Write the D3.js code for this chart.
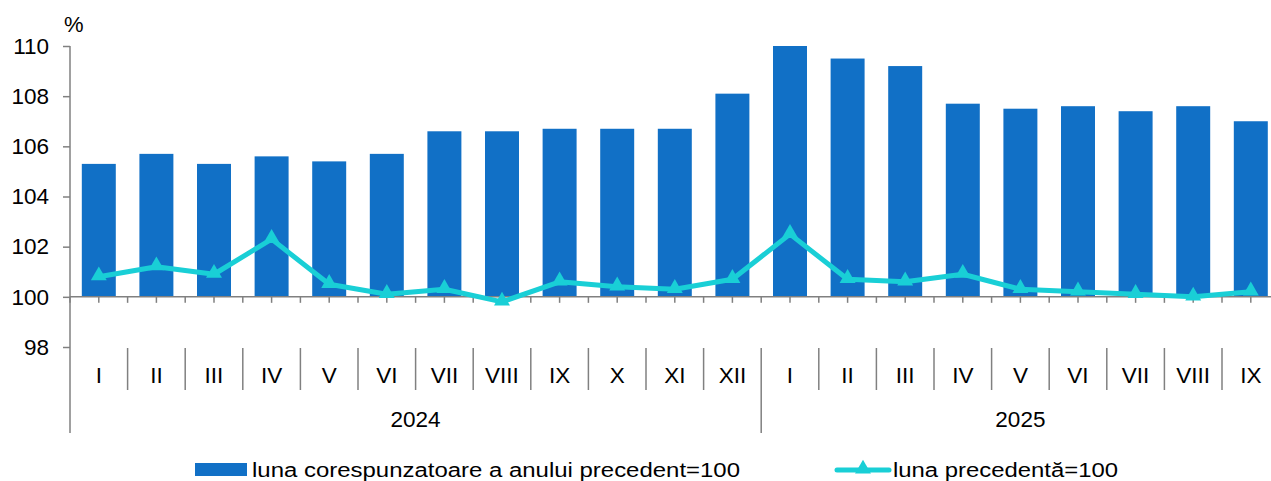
<!DOCTYPE html>
<html>
<head>
<meta charset="utf-8">
<script src="https://cdn.jsdelivr.net/npm/d3@7"></script>
<style>
  body { margin: 0; background: #fff; }
  svg text { font-family: "Liberation Sans", Arial, sans-serif; fill: #000; }
</style>
</head>
<body>
<svg id="chart" width="1271" height="481"></svg>
<script>
var months = ["I", "II", "III", "IV", "V", "VI", "VII", "VIII", "IX", "X", "XI", "XII",
              "I", "II", "III", "IV", "V", "VI", "VII", "VIII", "IX"];
var years = ["2024", "2025"];
var yearLengths = [12, 9];
var yoy = [105.3, 105.7, 105.3, 105.6, 105.4, 105.7, 106.6, 106.6, 106.7, 106.7, 106.7, 108.1,
           110.0, 109.5, 109.2, 107.7, 107.5, 107.6, 107.4, 107.6, 107.0];
var mom = [100.8, 101.2, 100.9, 102.3, 100.5, 100.1, 100.3, 99.8, 100.6, 100.4, 100.3, 100.7,
           102.5, 100.7, 100.6, 100.9, 100.3, 100.2, 100.1, 100.0, 100.2];
var yTicks = [98, 100, 102, 104, 106, 108, 110];
var legendLabels = ["luna corespunzatoare a anului precedent=100", "luna precedentă=100"];

var barColor = "#1170c6";
var lineColor = "#19cfd6";
var axisColor = "#808080";

var svg = d3.select("#chart");
var left = 70, bandW = 57.6;
var idx = d3.range(months.length);

var x = d3.scaleBand().domain(idx).range([left, left + bandW * months.length]).paddingInner(0.41).paddingOuter(0.205);
var y = d3.scaleLinear().domain([98, 110]).range([347, 46]);
var cx = function(i) { return left + bandW * (i + 0.5) };

// bars
svg.append("g").selectAll("rect").data(yoy).enter().append("rect")
    .attr("x", function(d, i) { return x(i) })
    .attr("width", x.bandwidth())
    .attr("y", function(d) { return y(d) })
    .attr("height", function(d) { return y(100) - y(d) })
    .attr("fill", barColor);

// y axis
var yAxis = svg.append("g").attr("transform", "translate(" + left + ",0)")
    .call(d3.axisLeft(y).tickValues(yTicks).tickSize(7).tickPadding(14));
yAxis.select(".domain").remove();
yAxis.selectAll("line").attr("stroke", axisColor).attr("stroke-width", 1.5);
yAxis.selectAll("text").attr("font-size", 22.5).attr("font-family", "Liberation Sans, Arial, sans-serif");
svg.append("line").attr("x1", left).attr("x2", left).attr("y1", y(110)).attr("y2", 433)
    .attr("stroke", axisColor).attr("stroke-width", 1.5);

// baseline at 100 with half-band ticks
svg.append("line").attr("x1", left).attr("x2", 1280).attr("y1", y(100)).attr("y2", y(100))
    .attr("stroke", axisColor).attr("stroke-width", 1.5);
svg.append("g").selectAll("line").data(d3.range(months.length * 2 + 1)).enter().append("line")
    .attr("x1", function(d) { return left + d * bandW / 2 })
    .attr("x2", function(d) { return left + d * bandW / 2 })
    .attr("y1", y(100)).attr("y2", y(100) + 6)
    .attr("stroke", axisColor).attr("stroke-width", 1.5);

// line series
svg.append("path").datum(mom)
    .attr("fill", "none")
    .attr("stroke", lineColor)
    .attr("stroke-width", 5)
    .attr("stroke-linejoin", "round")
    .attr("d", d3.line().x(function(d, i) { return cx(i) }).y(function(d) { return y(d) }));
var tri = d3.symbol().type(d3.symbolTriangle).size(110);
svg.append("g").selectAll("path").data(mom).enter().append("path")
    .attr("d", tri)
    .attr("transform", function(d, i) { return "translate(" + cx(i) + "," + (y(d) - 1) + ")" })
    .attr("fill", lineColor);

// category labels
svg.append("g").selectAll("line").data(d3.range(1, months.length)).enter().append("line")
    .attr("x1", function(d) { return left + d * bandW })
    .attr("x2", function(d) { return left + d * bandW })
    .attr("y1", 348)
    .attr("y2", function(d) { return d === yearLengths[0] ? 433 : 390 })
    .attr("stroke", axisColor).attr("stroke-width", 1.5);
svg.append("g").selectAll("text").data(months).enter().append("text")
    .attr("x", function(d, i) { return cx(i) })
    .attr("y", 383)
    .attr("text-anchor", "middle")
    .attr("font-size", 22.5)
    .text(function(d) { return d });
var start = 0;
years.forEach(function(yr, k) {
    var mid = left + bandW * (start + yearLengths[k] / 2);
    if (k === 1) mid = left + bandW * (start + 4.5);
    svg.append("text").attr("x", mid).attr("y", 427).attr("text-anchor", "middle")
        .attr("font-size", 22.5).text(yr);
    start += yearLengths[k];
});

svg.append("text").attr("x", 64).attr("y", 32).attr("font-size", 22).text("%");

// legend
svg.append("rect").attr("x", 195).attr("y", 463).attr("width", 52).attr("height", 13).attr("fill", barColor);
svg.append("text").attr("x", 252).attr("y", 477).attr("font-size", 20)
    .attr("textLength", 488).attr("lengthAdjust", "spacingAndGlyphs").text(legendLabels[0]);
svg.append("line").attr("x1", 837).attr("x2", 889).attr("y1", 470).attr("y2", 470)
    .attr("stroke", lineColor).attr("stroke-width", 5).attr("stroke-linecap", "round");
svg.append("path").attr("d", tri).attr("transform", "translate(863,469)").attr("fill", lineColor);
svg.append("text").attr("x", 893).attr("y", 477).attr("font-size", 20)
    .attr("textLength", 225).attr("lengthAdjust", "spacingAndGlyphs").text(legendLabels[1]);
</script>
</body>
</html>
